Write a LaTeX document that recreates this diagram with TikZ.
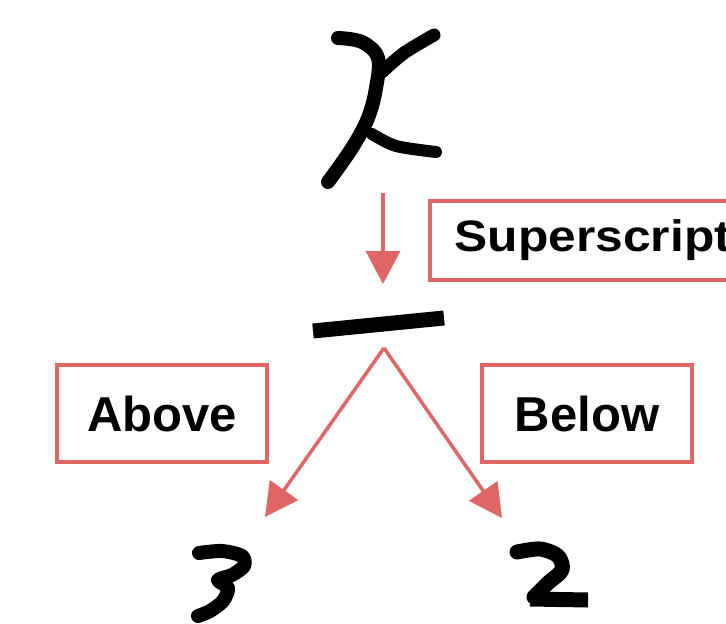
\documentclass[tikz,border=0pt]{standalone}
\usepackage{fontspec}
\setmainfont{Liberation Sans}
\usetikzlibrary{arrows.meta}
\definecolor{redline}{RGB}{224,102,102}
\tikzset{
  ink/.style={draw=black,line width=14bp,line cap=round,line join=round},
  labelbox/.style={draw=redline,line width=3.5bp,fill=white,inner sep=0pt,
    minimum width=210bp,minimum height=97bp,
    font=\fontsize{49bp}{58bp}\selectfont\bfseries},
  redarrow/.style={draw=redline,line width=3.5bp,
    -{Triangle[width=34bp,length=33bp]}}
}
\begin{document}
\begin{tikzpicture}[x=1bp,y=-1bp]
\useasboundingbox (0,0) rectangle (726,624);
\clip (0,0) rectangle (726,624);
\fill[white] (0,0) rectangle (726,624);
% handwritten x
\draw[ink] plot[smooth,tension=0.6] coordinates {(338,38) (362,42) (378,58) (376,88) (368,118) (352,148) (328,182)};
\draw[ink,line width=13bp] plot[smooth] coordinates {(434,35) (404,53) (382,72)};
\draw[ink,line width=12bp] plot[smooth] coordinates {(372,134) (396,146) (436,152)};
% fraction bar
\draw[black,line width=15bp] (313,331) -- (444,318);
% handwritten 3
\draw[ink,line width=14bp] plot[smooth,tension=0.5] coordinates {(199,553) (222,551) (242,556) (244,566) (232,575) (218,580) (228,588) (223,601) (210,611) (198,616)};
% handwritten 2
\draw[ink,line width=15bp] plot[smooth,tension=0.5] coordinates {(517,552) (540,549) (558,556) (562,570) (548,583) (534,597)};
\draw[ink,line width=15bp,line cap=butt] (530,599) -- (588,600);
% connector anchors
\coordinate (xfoot) at (383,193);
\coordinate (barhead) at (383,284);
\coordinate (fork) at (384,348);
\coordinate (threehead) at (265,517);
\coordinate (twohead) at (502,518);
% labels
\node[labelbox,anchor=west,minimum width=330bp,minimum height=79bp,inner xsep=25bp,align=left,text width=300bp] (sup) at (428,240.5)
  {\fontsize{44bp}{52bp}\selectfont\bfseries\scalebox{1.13}[1]{Superscript}};
\node[labelbox] (above) at (162,413.5) {Above\hspace{8bp}};
\node[labelbox] (below) at (587,413.5) {Below\hspace{10bp}};
% connectors
\draw[redarrow] (xfoot) -- (barhead);
\draw[redarrow] (fork) -- (threehead);
\draw[redarrow] (fork) -- (twohead);
\end{tikzpicture}
\end{document}
